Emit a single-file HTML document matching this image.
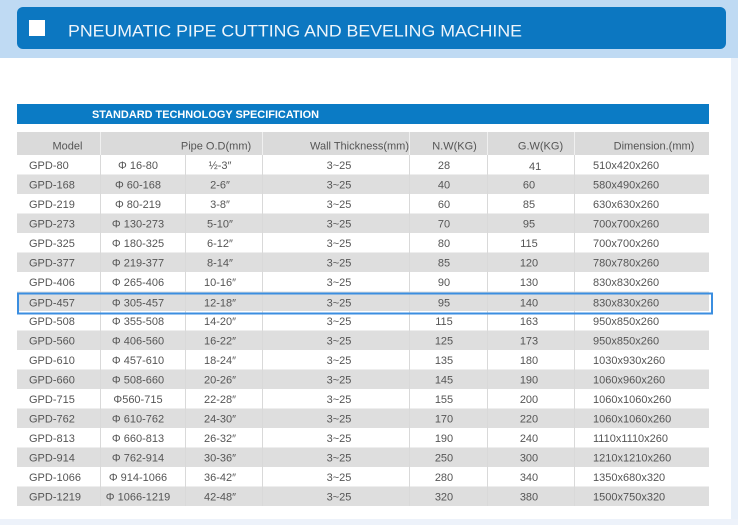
<!DOCTYPE html>
<html><head><meta charset="utf-8"><style>
html,body{margin:0;padding:0;background:#fff;}
svg{display:block;}
text{font-family:"Liberation Sans",sans-serif;}
.d{font-size:11px;fill:#555;}
.h{font-size:11px;fill:#555;}
.m{text-anchor:middle;}
</style></head><body>
<svg width="738" height="525" viewBox="0 0 738 525" xmlns="http://www.w3.org/2000/svg">
<rect x="0" y="0" width="738" height="525" fill="#ffffff"/>
<rect x="731" y="58" width="7" height="467" fill="#eaf1fa"/>
<rect x="0" y="519" width="738" height="6" fill="#edf2fa"/>
<rect x="0" y="0" width="738" height="58" fill="#bfdaf3"/>
<rect x="17" y="7" width="709" height="42" rx="6" ry="6" fill="#0c77c1"/>
<rect x="29" y="20" width="16" height="16" fill="#ffffff"/>
<text x="68" y="36.5" font-size="17" fill="#eef5fb" textLength="454" lengthAdjust="spacingAndGlyphs">PNEUMATIC PIPE CUTTING AND BEVELING MACHINE</text>
<rect x="17" y="104" width="692" height="20" fill="#0b7bc5"/>
<text x="92" y="118" font-size="11" font-weight="bold" fill="#ffffff" textLength="227" lengthAdjust="spacingAndGlyphs">STANDARD TECHNOLOGY SPECIFICATION</text>
<rect x="17" y="132" width="692" height="23" fill="#dadada"/>
<g stroke="#f0f0f0" stroke-width="1">
<line x1="100.5" y1="132" x2="100.5" y2="155"/><line x1="262.5" y1="132" x2="262.5" y2="155"/><line x1="409.5" y1="132" x2="409.5" y2="155"/><line x1="487.5" y1="132" x2="487.5" y2="155"/><line x1="574.5" y1="132" x2="574.5" y2="155"/>
</g>
<g class="h m">
<text x="67.5" y="149.5">Model</text>
<text x="216" y="149.5">Pipe O.D(mm)</text>
<text x="359.5" y="149.5">Wall Thickness(mm)</text>
<text x="454.5" y="149.5">N.W(KG)</text>
<text x="540.5" y="149.5">G.W(KG)</text>
<text x="654" y="149.5">Dimension.(mm)</text>
</g>
<g id="rows">
<!-- gray rows -->
<g fill="#dedede">
<rect x="17" y="174.5" width="692" height="19.5"/>
<rect x="17" y="213.5" width="692" height="19.5"/>
<rect x="17" y="252.5" width="692" height="19.5"/>
<rect x="17" y="291.5" width="692" height="19.5"/>
<rect x="17" y="330.5" width="692" height="19.5"/>
<rect x="17" y="369.5" width="692" height="19.5"/>
<rect x="17" y="408.5" width="692" height="19.5"/>
<rect x="17" y="447.5" width="692" height="19.5"/>
<rect x="17" y="486.5" width="692" height="19.5"/>
</g>
<g stroke="#d9d9d9" stroke-width="1">
<line x1="100.5" y1="155" x2="100.5" y2="506"/><line x1="185.5" y1="155" x2="185.5" y2="506"/><line x1="262.5" y1="155" x2="262.5" y2="506"/><line x1="409.5" y1="155" x2="409.5" y2="506"/><line x1="487.5" y1="155" x2="487.5" y2="506"/><line x1="574.5" y1="155" x2="574.5" y2="506"/>
</g>
</g>
<g class="d">
<text x="29" y="169">GPD-80</text><text x="138" y="169" class="m">Φ 16-80</text><text x="220" y="169" class="m">½-3″</text><text x="339" y="169" class="m">3~25</text><text x="444" y="169" class="m">28</text><text x="529" y="170">41</text><text x="593" y="169">510x420x260</text>
<text x="29" y="188.5">GPD-168</text><text x="138" y="188.5" class="m">Φ 60-168</text><text x="220" y="188.5" class="m">2-6″</text><text x="339" y="188.5" class="m">3~25</text><text x="444" y="188.5" class="m">40</text><text x="529" y="188.5" class="m">60</text><text x="593" y="188.5">580x490x260</text>
<text x="29" y="208">GPD-219</text><text x="138" y="208" class="m">Φ 80-219</text><text x="220" y="208" class="m">3-8″</text><text x="339" y="208" class="m">3~25</text><text x="444" y="208" class="m">60</text><text x="529" y="208" class="m">85</text><text x="593" y="208">630x630x260</text>
<text x="29" y="227.5">GPD-273</text><text x="138" y="227.5" class="m">Φ 130-273</text><text x="220" y="227.5" class="m">5-10″</text><text x="339" y="227.5" class="m">3~25</text><text x="444" y="227.5" class="m">70</text><text x="529" y="227.5" class="m">95</text><text x="593" y="227.5">700x700x260</text>
<text x="29" y="247">GPD-325</text><text x="138" y="247" class="m">Φ 180-325</text><text x="220" y="247" class="m">6-12″</text><text x="339" y="247" class="m">3~25</text><text x="444" y="247" class="m">80</text><text x="529" y="247" class="m">115</text><text x="593" y="247">700x700x260</text>
<text x="29" y="266.5">GPD-377</text><text x="138" y="266.5" class="m">Φ 219-377</text><text x="220" y="266.5" class="m">8-14″</text><text x="339" y="266.5" class="m">3~25</text><text x="444" y="266.5" class="m">85</text><text x="529" y="266.5" class="m">120</text><text x="593" y="266.5">780x780x260</text>
<text x="29" y="286">GPD-406</text><text x="138" y="286" class="m">Φ 265-406</text><text x="220" y="286" class="m">10-16″</text><text x="339" y="286" class="m">3~25</text><text x="444" y="286" class="m">90</text><text x="529" y="286" class="m">130</text><text x="593" y="286">830x830x260</text>
<text x="29" y="306.5">GPD-457</text><text x="138" y="306.5" class="m">Φ 305-457</text><text x="220" y="306.5" class="m">12-18″</text><text x="339" y="306.5" class="m">3~25</text><text x="444" y="306.5" class="m">95</text><text x="529" y="306.5" class="m">140</text><text x="593" y="306.5">830x830x260</text>
<text x="29" y="325">GPD-508</text><text x="138" y="325" class="m">Φ 355-508</text><text x="220" y="325" class="m">14-20″</text><text x="339" y="325" class="m">3~25</text><text x="444" y="325" class="m">115</text><text x="529" y="325" class="m">163</text><text x="593" y="325">950x850x260</text>
<text x="29" y="344.5">GPD-560</text><text x="138" y="344.5" class="m">Φ 406-560</text><text x="220" y="344.5" class="m">16-22″</text><text x="339" y="344.5" class="m">3~25</text><text x="444" y="344.5" class="m">125</text><text x="529" y="344.5" class="m">173</text><text x="593" y="344.5">950x850x260</text>
<text x="29" y="364">GPD-610</text><text x="138" y="364" class="m">Φ 457-610</text><text x="220" y="364" class="m">18-24″</text><text x="339" y="364" class="m">3~25</text><text x="444" y="364" class="m">135</text><text x="529" y="364" class="m">180</text><text x="593" y="364">1030x930x260</text>
<text x="29" y="383.5">GPD-660</text><text x="138" y="383.5" class="m">Φ 508-660</text><text x="220" y="383.5" class="m">20-26″</text><text x="339" y="383.5" class="m">3~25</text><text x="444" y="383.5" class="m">145</text><text x="529" y="383.5" class="m">190</text><text x="593" y="383.5">1060x960x260</text>
<text x="29" y="403">GPD-715</text><text x="138" y="403" class="m">Φ560-715</text><text x="220" y="403" class="m">22-28″</text><text x="339" y="403" class="m">3~25</text><text x="444" y="403" class="m">155</text><text x="529" y="403" class="m">200</text><text x="593" y="403">1060x1060x260</text>
<text x="29" y="422.5">GPD-762</text><text x="138" y="422.5" class="m">Φ 610-762</text><text x="220" y="422.5" class="m">24-30″</text><text x="339" y="422.5" class="m">3~25</text><text x="444" y="422.5" class="m">170</text><text x="529" y="422.5" class="m">220</text><text x="593" y="422.5">1060x1060x260</text>
<text x="29" y="442">GPD-813</text><text x="138" y="442" class="m">Φ 660-813</text><text x="220" y="442" class="m">26-32″</text><text x="339" y="442" class="m">3~25</text><text x="444" y="442" class="m">190</text><text x="529" y="442" class="m">240</text><text x="593" y="442">1110x1110x260</text>
<text x="29" y="461.5">GPD-914</text><text x="138" y="461.5" class="m">Φ 762-914</text><text x="220" y="461.5" class="m">30-36″</text><text x="339" y="461.5" class="m">3~25</text><text x="444" y="461.5" class="m">250</text><text x="529" y="461.5" class="m">300</text><text x="593" y="461.5">1210x1210x260</text>
<text x="29" y="481">GPD-1066</text><text x="138" y="481" class="m">Φ 914-1066</text><text x="220" y="481" class="m">36-42″</text><text x="339" y="481" class="m">3~25</text><text x="444" y="481" class="m">280</text><text x="529" y="481" class="m">340</text><text x="593" y="481">1350x680x320</text>
<text x="29" y="500.5">GPD-1219</text><text x="138" y="500.5" class="m">Φ 1066-1219</text><text x="220" y="500.5" class="m">42-48″</text><text x="339" y="500.5" class="m">3~25</text><text x="444" y="500.5" class="m">320</text><text x="529" y="500.5" class="m">380</text><text x="593" y="500.5">1500x750x320</text>
</g>
<rect x="18" y="293.5" width="694" height="20" fill="none" stroke="#3b8ee0" stroke-width="2"/>
</svg>
</body></html>
